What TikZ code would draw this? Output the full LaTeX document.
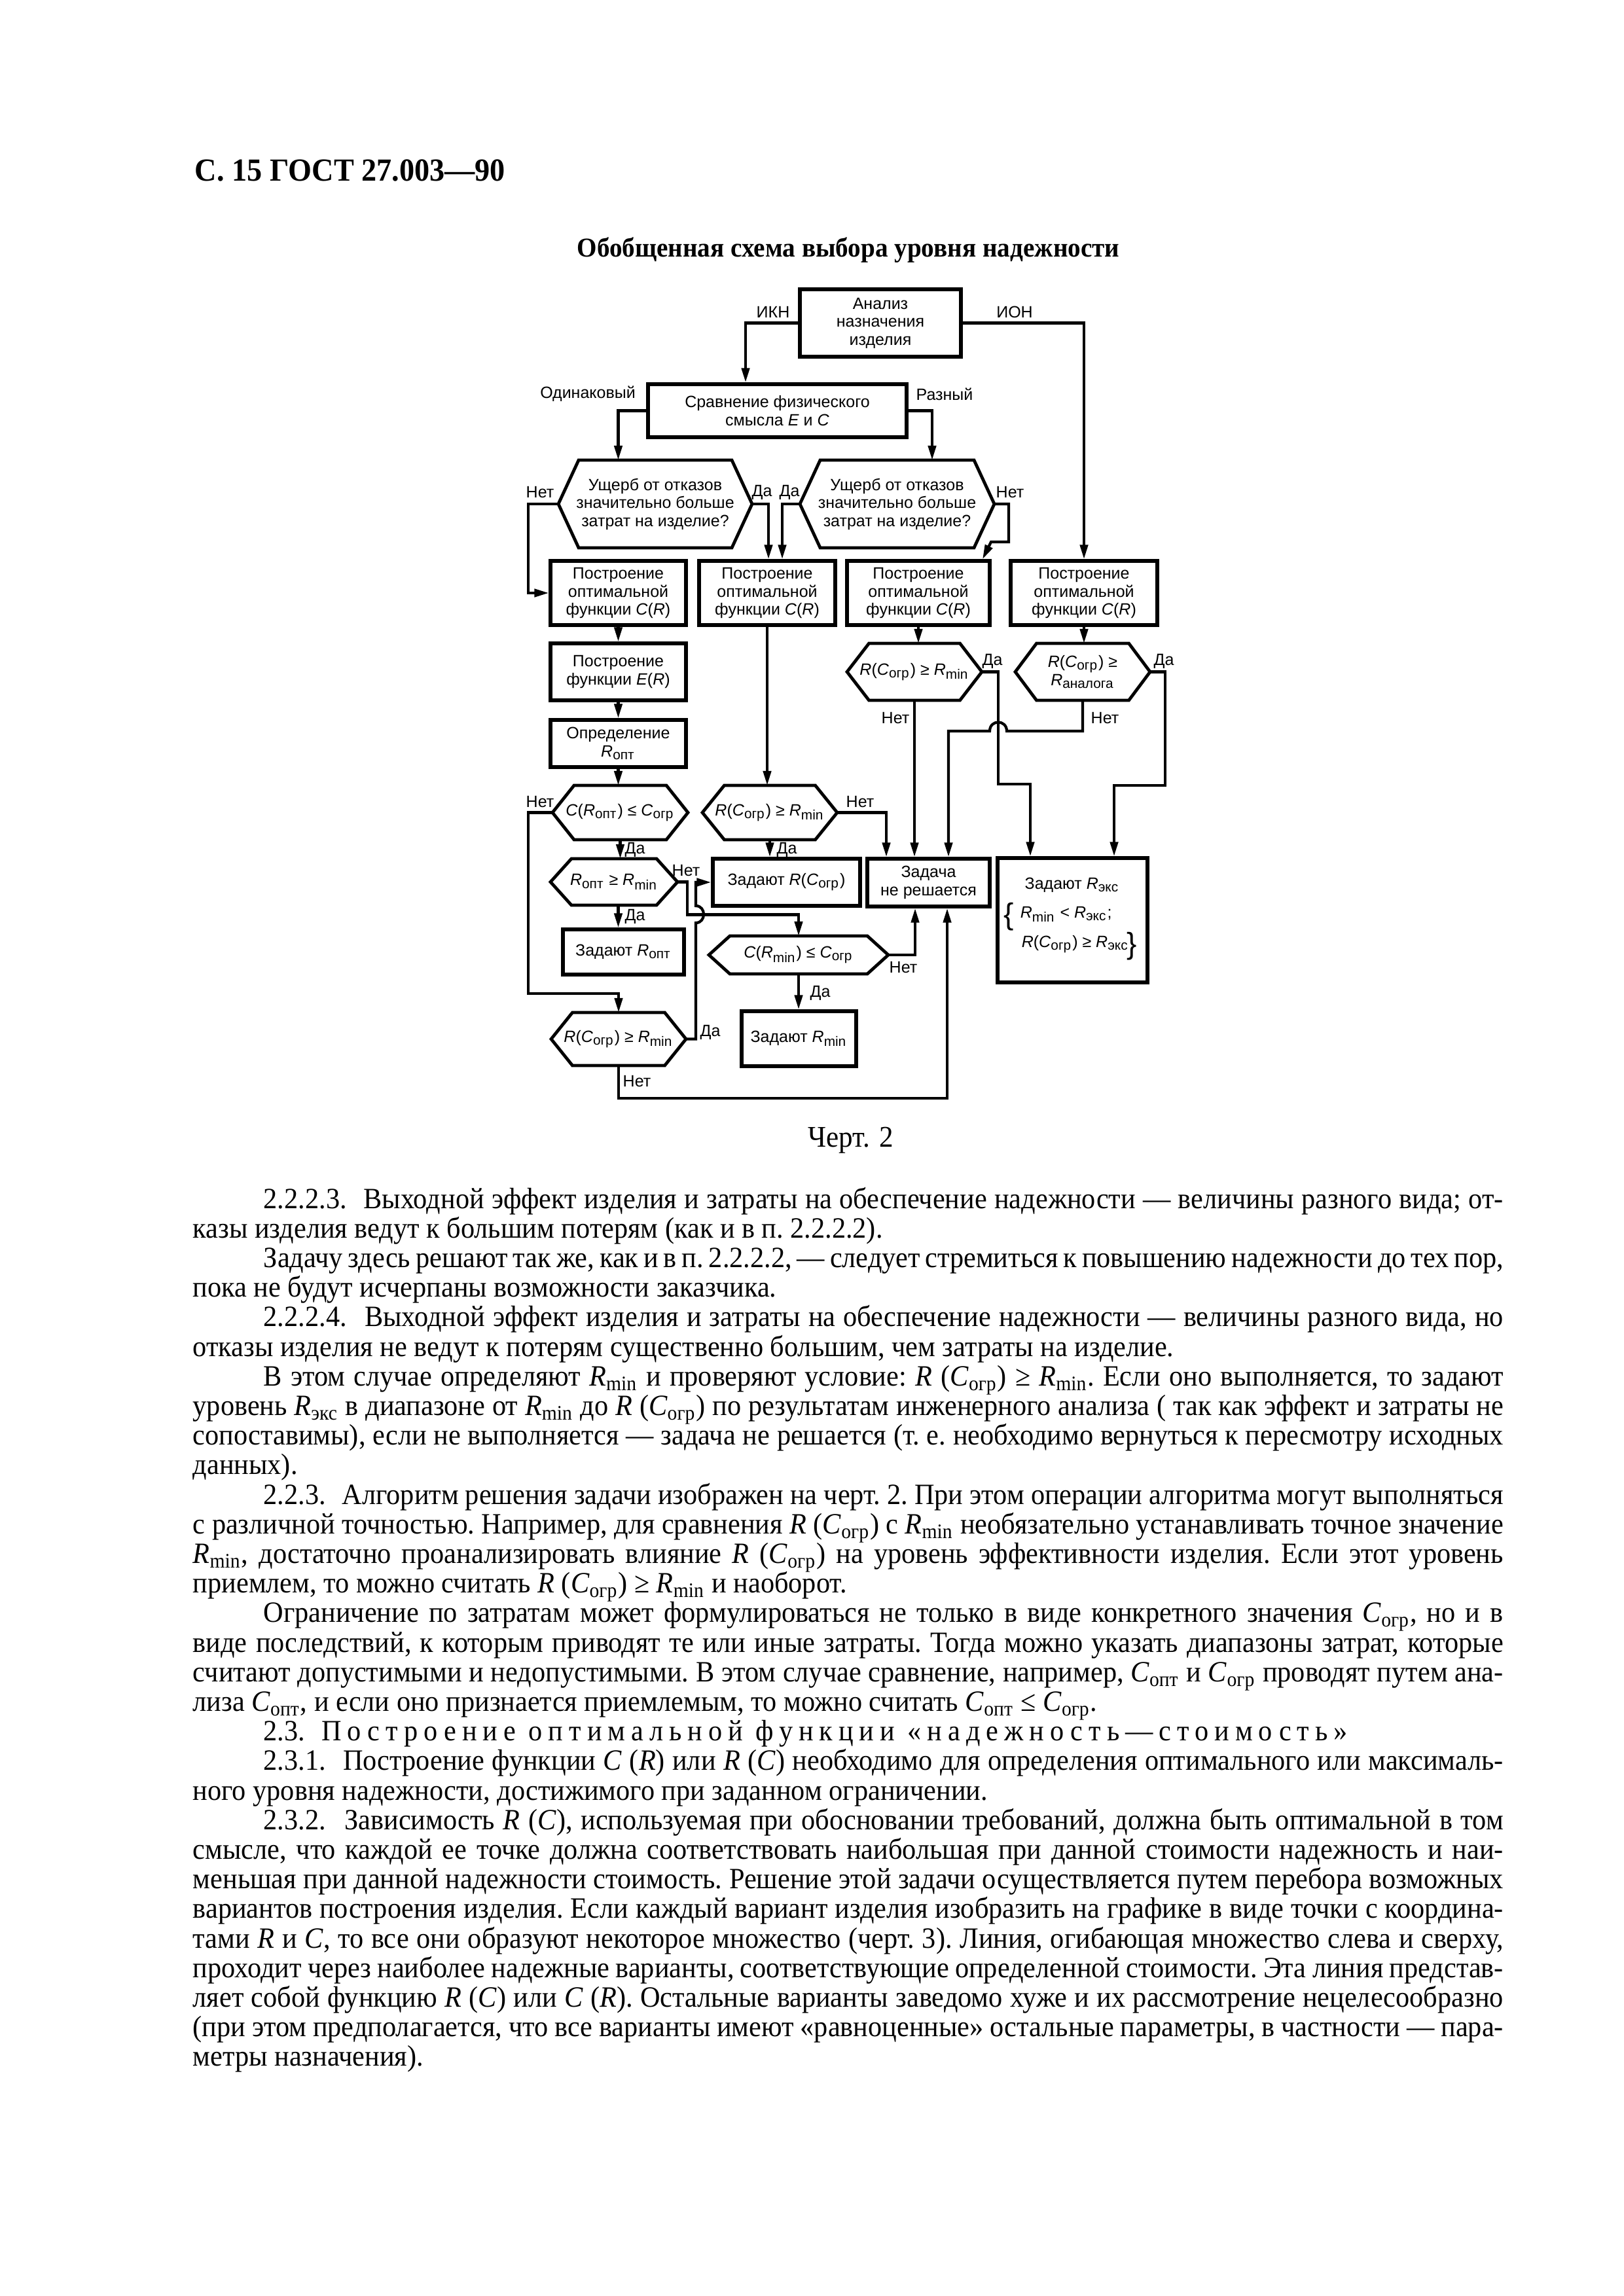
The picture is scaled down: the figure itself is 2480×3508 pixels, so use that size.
\documentclass[tikz,border=0pt]{standalone}
\usepackage{fontspec}
\setmainfont{Liberation Serif}[FakeStretch=0.94]
\newfontfamily\sansd{Liberation Sans}
\usetikzlibrary{arrows.meta}
\newdimen\pu \pu=0.24pt
\newcommand\dfont{\sansd\fontsize{6}{6.6}\selectfont}
\newcommand\bodyf{\rmfamily\fontsize{10.8}{10.85}\selectfont\frenchspacing}
\newcommand\iR{\textit{R}}
\newcommand\iC{\textit{C}}
\newcommand\iE{\textit{E}}
\newcommand\sbs[1]{\textsubscript{#1}}
\newcommand\nsp{\hskip 0.55em plus 0.2em\relax}
\tikzset{
  box/.style={draw, line width=1.25pt, inner sep=0pt, align=center, font=\dfont},
  hexs/.style={draw, line width=1.15pt, line join=miter},
  lin/.style={line width=1pt},
  con/.style={line width=1pt, -{Triangle[length=5.3pt,width=2.9pt]}},
  lab/.style={font=\dfont, inner sep=0pt},
  tl/.style={anchor=base west, inner sep=0pt, font=\bodyf},
}
\newcommand\hexa[7]{%
  \draw[hexs] ({#2-#4},{#3-#6}) -- ({#2+#4},{#3-#6}) -- ({#2+#5},#3) -- ({#2+#4},{#3+#6}) -- ({#2-#4},{#3+#6}) -- ({#2-#5},#3) -- cycle;
  \coordinate (#1L) at ({#2-#5},#3);
  \coordinate (#1R) at ({#2+#5},#3);
  \coordinate (#1T) at (#2,{#3-#6});
  \coordinate (#1B) at (#2,{#3+#6});
  \node[lab, align=center] (#1) at (#2,#3) {#7};}
\newcommand\bx[6]{\node[box, minimum width=#4*\pu, minimum height=#5*\pu] (#1) at (#2,#3) {#6};}
\newcommand\Lf[3]{\node[tl] (#1) at (294,#2) {\hbox to 2002\pu{#3}};}
\newcommand\Li[3]{\node[tl] (#1) at (402,#2) {\hbox to 1894\pu{#3}};}
\newcommand\Ll[3]{\node[tl] (#1) at (294,#2) {#3};}
\newcommand\Lil[3]{\node[tl] (#1) at (402,#2) {#3};}
\begin{document}
\begin{tikzpicture}[x=0.24pt, y=-0.24pt]
\fill[white] (0,0) rectangle (2480,3508);
\useasboundingbox (0,0) rectangle (2480,3508);

% header and title
\node[anchor=base west, inner sep=0pt, font=\fontsize{11.8}{12}\selectfont\bfseries] (hdr) at (297,277) {С. 15 ГОСТ 27.003—90};
\node[anchor=base, inner sep=0pt, font=\fontsize{10}{11}\selectfont\bfseries] (ttl) at (1296,393) {Обобщенная схема выбора уровня надежности};

% boxes
\bx{A}{1345}{493.5}{246}{103}{Анализ\\назначения\\изделия}
\bx{S}{1187.5}{627.5}{395}{81}{Сравнение физического\\смысла \iE\ и \iC}
\bx{B1}{944.5}{906}{207}{98}{Построение\\оптимальной\\функции \iC(\iR)}
\bx{B2}{1172}{906}{208}{98}{Построение\\оптимальной\\функции \iC(\iR)}
\bx{B3}{1403}{906}{218}{98}{Построение\\оптимальной\\функции \iC(\iR)}
\bx{B4}{1656}{906}{224}{98}{Построение\\оптимальной\\функции \iC(\iR)}
\bx{B5}{944.5}{1026.5}{207}{87}{Построение\\функции \iE(\iR)}
\bx{B6}{944.5}{1136}{207}{72}{Определение\\\iR\sbs{опт}}
\bx{B7}{1201.5}{1348}{225}{72}{Задают \iR(\iC\sbs{огр})}
\bx{B8}{1418.5}{1348.5}{187}{73}{Задача\\не решается}
\bx{B9}{1638.5}{1406}{229}{190}{}
\bx{B10}{952.5}{1454.5}{185}{69}{Задают \iR\sbs{опт}}
\bx{B11}{1220.5}{1587}{175}{84}{Задают \iR\sbs{min}}

\node[lab] (b9a) at (1638,1352) {Задают \iR\sbs{экс}};
\node[lab, anchor=west] (b9b) at (1558,1397) {\iR\sbs{min} < \iR\sbs{экс};};
\node[lab, anchor=west] (b9c) at (1560,1443) {\iR(\iC\sbs{огр}) ≥ \iR\sbs{экс}};
\node[inner sep=0pt, font=\sansd\fontsize{11}{11}\selectfont] (b9l) at (1541,1401) {\{};
\node[inner sep=0pt, font=\sansd\fontsize{11}{11}\selectfont] (b9r) at (1729,1446) {\}};

% hexagons
\hexa{h1}{1001}{770}{117}{148}{67}{Ущерб от отказов\\значительно больше\\затрат на изделие?}
\hexa{h2}{1370.5}{770}{117.5}{148.5}{67}{Ущерб от отказов\\значительно больше\\затрат на изделие?}
\hexa{h3}{1397}{1026.5}{69.5}{103}{43.5}{\iR(\iC\sbs{огр}) ≥ \iR\sbs{min}}
\hexa{h4}{1654}{1026.5}{70.5}{103}{43.5}{\iR(\iC\sbs{огр}) ≥\\\iR\sbs{аналога}}
\hexa{h5}{947.5}{1241.5}{70.5}{103.5}{41.5}{\iC(\iR\sbs{опт}) ≤ \iC\sbs{огр}}
\hexa{hm}{1176}{1241.5}{69.5}{103}{41.5}{\iR(\iC\sbs{огр}) ≥ \iR\sbs{min}}
\hexa{h6}{938}{1347.5}{65}{97}{35.5}{\iR\sbs{опт} ≥ \iR\sbs{min}}
\hexa{h8}{1220}{1459}{105}{137}{29}{\iC(\iR\sbs{min}) ≤ \iC\sbs{огр}}
\hexa{h7}{945}{1587.5}{70.5}{103}{40.5}{\iR(\iC\sbs{огр}) ≥ \iR\sbs{min}}

% connectors
\draw[con] (A.west) -| ([xshift=-48.5*\pu]S.north);
\draw[con] (A.east) -| (B4.north);
\draw[con] (S.west) -| (B1.north |- h1T);
\draw[con] (S.east) -| ([xshift=53.5*\pu]h2T);
\draw[con] (h1L) -- ++(-46,0) |- (B1.west);
\draw[con] (h1R) -| ([xshift=2*\pu]B2.north);
\draw[con] (h2L) -| ([xshift=23*\pu]B2.north);
\draw[con] (h2R) -- ++(22,0) -- ++(0,58) -- ++(-27,0) -- ([xshift=98*\pu]B3.north);
\draw[con] (B1.south) -- (B5.north);
\draw[con] (B5.south) -- (B6.north);
\draw[con] (B6.south) -- (B6.south |- h5T);
\draw[con] (B2.south) -- (B2.south |- hmT);
\draw[con] (B3.south) -- (B3.south |- h3T);
\draw[con] (B4.south) -- (B4.south |- h4T);
\draw[con] (h3R) -- ++(25,0) -- ++(0,171.5) -| ([xshift=-64.5*\pu]B9.north);
\draw[con] (h3B) -- (h3B |- B8.north);
\draw[con] (h4R) -- ++(23,0) -- ++(0,173.5) -| ([xshift=63.5*\pu]B9.north);
\draw[con] (h4B) -- ++(0,47) -- (1538,1117) .. controls (1538,1099) and (1512,1099) .. (1512,1117) -| ([xshift=30.5*\pu]B8.north);
\draw[con] (hmR) -| ([xshift=-64.5*\pu]B8.north);
\draw[con] (hmB) -- (hmB |- B7.north);
\draw[con] (h5L) -- ++(-37,0) -- ++(0,276.5) -| (h7T);
\draw[con] (h5B) -- (h5B |- h6T);
\draw[con] (h6R) -- ++(15,0) -- ++(0,50) -| (h8T);
\draw[con] (B1.south |- h6B) -- (B1.south |- B10.north);
\draw[con] (h7R) -- ++(15,0) -- (1063,1410) .. controls (1079,1410) and (1079,1384) .. (1063,1384) |- (B7.west);
\draw[con] (h7B) -- ++(0,50) -| ([xshift=28.5*\pu]B8.south);
\draw[con] (h8R) -| ([xshift=-20.5*\pu]B8.south);
\draw[con] (h8B) -- (h8B |- B11.north);

% labels
\node[lab] (tIKN) at (1181,477) {ИКН};
\node[lab] (tION) at (1550,477) {ИОН};
\node[lab] (tOd) at (898,602) {Одинаковый};
\node[lab] (tRaz) at (1443,602) {Разный};
\node[lab] (n1) at (825,752) {Нет};
\node[lab] (d1) at (1164,752) {Да};
\node[lab] (d2) at (1206,752) {Да};
\node[lab] (n2) at (1543,752) {Нет};
\node[lab] (d3) at (1516,1010) {Да};
\node[lab] (n3) at (1368,1097) {Нет};
\node[lab] (d4) at (1778,1010) {Да};
\node[lab] (n4) at (1688,1097) {Нет};
\node[lab] (n5) at (825,1225) {Нет};
\node[lab] (nm) at (1314,1225) {Нет};
\node[lab] (d5) at (970,1298) {Да};
\node[lab] (dm) at (1202,1298) {Да};
\node[lab] (n6) at (1048,1330) {Нет};
\node[lab] (d6) at (970,1400) {Да};
\node[lab] (n8) at (1380,1478) {Нет};
\node[lab] (d8) at (1253,1517) {Да};
\node[lab] (d7) at (1085,1577) {Да};
\node[lab] (n7) at (973,1652) {Нет};

\node[anchor=base, inner sep=0pt, font=\fontsize{11}{12}\selectfont] (cap) at (1300,1752) {Черт. 2};

% body text
\Li{l1}{1846}{2.2.2.3.\nsp Выходной эффект изделия и затраты на обеспечение надежности — величины разного вида; от-}
\Ll{l2}{1891.2}{казы изделия ведут к большим потерям (как и в п. 2.2.2.2).}
\Li{l3}{1936.4}{Задачу здесь решают так же, как и в п. 2.2.2.2, — следует стремиться к повышению надежности до тех пор,}
\Ll{l4}{1981.6}{пока не будут исчерпаны возможности заказчика.}
\Li{l5}{2026.8}{2.2.2.4.\nsp Выходной эффект изделия и затраты на обеспечение надежности — величины разного вида, но}
\Ll{l6}{2072}{отказы изделия не ведут к потерям существенно большим, чем затраты на изделие.}
\Li{l7}{2117.2}{В этом случае определяют \iR\sbs{min} и проверяют условие: \iR{} (\iC\sbs{огр}) ≥ \iR\sbs{min}. Если оно выполняется, то задают}
\Lf{l8}{2162.4}{уровень \iR\sbs{экс} в диапазоне от \iR\sbs{min} до \iR{} (\iC\sbs{огр}) по результатам инженерного анализа ( так как эффект и затраты не}
\Lf{l9}{2207.6}{сопоставимы), если не выполняется — задача не решается (т. е. необходимо вернуться к пересмотру исходных}
\Ll{l10}{2252.8}{данных).}
\Li{l11}{2298}{2.2.3.\nsp Алгоритм решения задачи изображен на черт. 2. При этом операции алгоритма могут выполняться}
\Lf{l12}{2343.2}{с различной точностью. Например, для сравнения \iR{} (\iC\sbs{огр}) с \iR\sbs{min} необязательно устанавливать точное значение}
\Lf{l13}{2388.4}{\iR\sbs{min}, достаточно проанализировать влияние \iR{} (\iC\sbs{огр}) на уровень эффективности изделия. Если этот уровень}
\Ll{l14}{2433.6}{приемлем, то можно считать \iR{} (\iC\sbs{огр}) ≥ \iR\sbs{min} и наоборот.}
\Li{l15}{2478.8}{Ограничение по затратам может формулироваться не только в виде конкретного значения \iC\sbs{огр}, но и в}
\Lf{l16}{2524}{виде последствий, к которым приводят те или иные затраты. Тогда можно указать диапазоны затрат, которые}
\Lf{l17}{2569.2}{считают допустимыми и недопустимыми. В этом случае сравнение, например, \iC\sbs{опт} и \iC\sbs{огр} проводят путем ана-}
\Ll{l18}{2614.4}{лиза \iC\sbs{опт}, и если оно признается приемлемым, то можно считать \iC\sbs{опт} ≤ \iC\sbs{огр}.}
\Lil{l19}{2659.6}{2.3.\nsp {\addfontfeature{LetterSpace=20}Построение оптимальной функции «надежность—стоимость»}}
\Li{l20}{2704.8}{2.3.1.\nsp Построение функции \iC{} (\iR) или \iR{} (\iC) необходимо для определения оптимального или максималь-}
\Ll{l21}{2750}{ного уровня надежности, достижимого при заданном ограничении.}
\Li{l22}{2795.2}{2.3.2.\nsp Зависимость \iR{} (\iC), используемая при обосновании требований, должна быть оптимальной в том}
\Lf{l23}{2840.4}{смысле, что каждой ее точке должна соответствовать наибольшая при данной стоимости надежность и наи-}
\Lf{l24}{2885.6}{меньшая при данной надежности стоимость. Решение этой задачи осуществляется путем перебора возможных}
\Lf{l25}{2930.8}{вариантов построения изделия. Если каждый вариант изделия изобразить на графике в виде точки с координа-}
\Lf{l26}{2976}{тами \iR{} и \iC, то все они образуют некоторое множество (черт. 3). Линия, огибающая множество слева и сверху,}
\Lf{l27}{3021.2}{проходит через наиболее надежные варианты, соответствующие определенной стоимости. Эта линия представ-}
\Lf{l28}{3066.4}{ляет собой функцию \iR{} (\iC) или \iC{} (\iR). Остальные варианты заведомо хуже и их рассмотрение нецелесообразно}
\Lf{l29}{3111.6}{(при этом предполагается, что все варианты имеют «равноценные» остальные параметры, в частности — пара-}
\Ll{l30}{3156.8}{метры назначения).}
\end{tikzpicture}
\end{document}
